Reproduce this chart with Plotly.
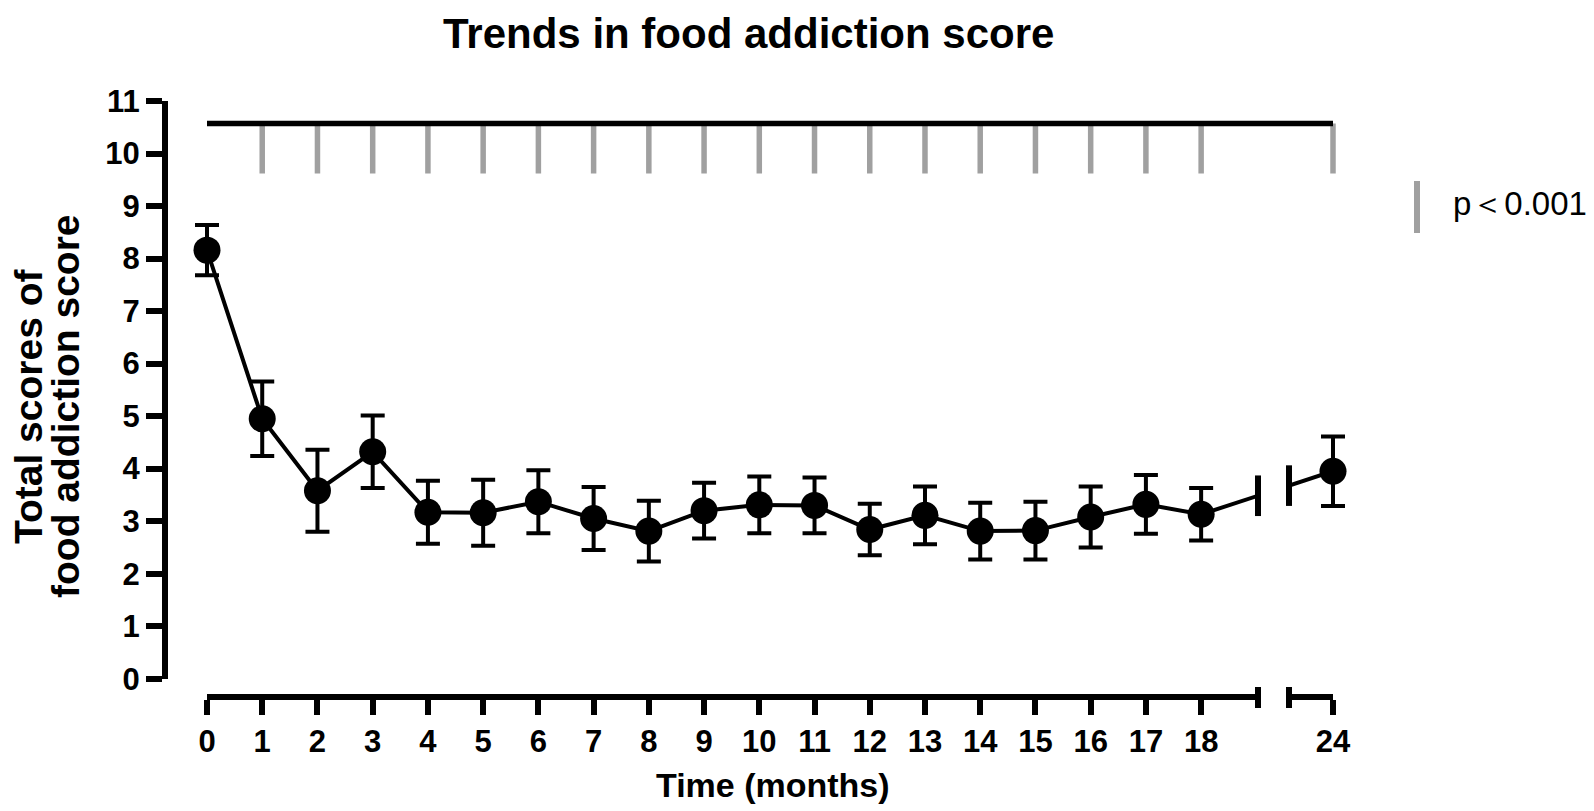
import numpy as np
import plotly.graph_objects as go

# ---------------- data ----------------
months = [0, 1, 2, 3, 4, 5, 6, 7, 8, 9, 10, 11, 12, 13, 14, 15, 16, 17, 18, 24]
mean_scores = [8.16, 4.95, 3.58, 4.32, 3.17, 3.16, 3.37, 3.05, 2.81, 3.20,
               3.31, 3.30, 2.84, 3.11, 2.81, 2.82, 3.08, 3.32, 3.13, 3.95]
sem_scores = [0.48, 0.71, 0.78, 0.69, 0.60, 0.63, 0.60, 0.60, 0.58, 0.53,
              0.54, 0.53, 0.49, 0.55, 0.54, 0.55, 0.58, 0.56, 0.50, 0.66]
tick_labels = [str(m) for m in months]
y_ticks = list(range(0, 12))
sig_months = months[1:]          # every visit vs baseline, p<0.001
SIG_TOP = 10.57
SIG_BOTTOM = 9.62
legend_text = "p\uff1c0.001"

title_text = "Trends in food addiction score"
x_title = "Time (months)"
y_title_lines = ["Total scores of", "food addiction score"]

# ---------------- layout constants (pixels) ----------------
W, H = 1594, 811
FONT = "Liberation Sans, Arial, sans-serif"
PX_PER_UNIT = 55.23
X0_PX = 199          # month 0
BREAK_LO_PX = 1250   # end of first axis segment
BREAK_HI_PX = 1281   # start of second axis segment
END_PX = 1325        # month 24
PAPER_L, PAPER_R = 157, 1345
PAPER_T, PAPER_B = 93, 689
Y_ZERO_PX = 670.7
LAST_REGULAR = 18


def unit(px):
    return (px - X0_PX) / PX_PER_UNIT


def pxx(px):
    return (px - PAPER_L) / (PAPER_R - PAPER_L)


def pxy(py):
    return (PAPER_B - py) / (PAPER_B - PAPER_T)


def to_pos(m):
    return m if m <= LAST_REGULAR else unit(END_PX)


xpos = [to_pos(m) for m in months]
sig_pos = [to_pos(m) for m in sig_months]

fig = go.Figure()

# significance brackets
gx, gy = [], []
for p in sig_pos:
    gx += [p, p, None]
    gy += [SIG_TOP, SIG_BOTTOM, None]
fig.add_trace(go.Scatter(x=gx, y=gy, mode="lines",
                         line=dict(color="#a0a0a0", width=5.5),
                         hoverinfo="skip", showlegend=False))
fig.add_trace(go.Scatter(x=[xpos[0], xpos[-1]], y=[SIG_TOP, SIG_TOP], mode="lines",
                         line=dict(color="black", width=5.5),
                         hoverinfo="skip", showlegend=False))

# main connecting line (0..18)
fig.add_trace(go.Scatter(x=xpos[:19], y=mean_scores[:19], mode="lines",
                         line=dict(color="black", width=4), showlegend=False))
# connector across the break, clipped by each axis segment
for ax in ["x2", "x3"]:
    fig.add_trace(go.Scatter(x=[xpos[18], xpos[19]], y=[mean_scores[18], mean_scores[19]],
                             mode="lines", xaxis=ax, yaxis="y",
                             line=dict(color="black", width=4), showlegend=False))

# break caps on the data line
bx = [unit(BREAK_LO_PX), unit(BREAK_HI_PX)]
by = list(np.interp(bx, [xpos[18], xpos[19]], [mean_scores[18], mean_scores[19]]))
fig.add_trace(go.Scatter(x=bx, y=by, mode="markers", cliponaxis=False,
                         marker=dict(symbol="line-ns", size=29,
                                     line=dict(color="black", width=6)),
                         hoverinfo="skip", showlegend=False))

# points with error bars
fig.add_trace(go.Scatter(x=xpos, y=mean_scores, mode="markers", cliponaxis=False,
                         marker=dict(color="black", size=27),
                         error_y=dict(type="data", array=sem_scores, color="black",
                                      thickness=4, width=12),
                         showlegend=False))

axis_common = dict(showline=True, linecolor="black", linewidth=6, ticks="outside",
                   tickcolor="black", tickwidth=5.5, showgrid=False, zeroline=False,
                   anchor="free", position=0,
                   tickfont=dict(family=FONT, size=31, color="black", weight="bold"))

fig.update_layout(
    width=W, height=H, autosize=False,
    paper_bgcolor="white", plot_bgcolor="rgba(0,0,0,0)",
    margin=dict(l=PAPER_L, r=W - PAPER_R, t=PAPER_T, b=H - PAPER_B, pad=0),
    xaxis=dict(domain=[0, 1], range=[unit(PAPER_L), unit(PAPER_R)], visible=False,
               anchor="y"),
    xaxis2=dict(domain=[pxx(X0_PX), pxx(BREAK_LO_PX)], range=[0, unit(BREAK_LO_PX)],
                tickmode="array", tickvals=xpos[:19], ticktext=tick_labels[:19],
                ticklen=15, **axis_common),
    xaxis3=dict(domain=[pxx(BREAK_HI_PX), pxx(END_PX)],
                range=[unit(BREAK_HI_PX), unit(END_PX) + 0.001],
                tickmode="array", tickvals=xpos[19:], ticktext=tick_labels[19:],
                ticklen=15, **axis_common),
    yaxis=dict(domain=[pxy(Y_ZERO_PX), 1], range=[0, 11],
               tickmode="array", tickvals=y_ticks, ticklen=16,
               **axis_common),
    showlegend=False,
    font=dict(family=FONT, color="black"),
)

# axis break caps
for px in [BREAK_LO_PX, BREAK_HI_PX]:
    fig.add_shape(type="line", xref="x", yref="paper", x0=unit(px), x1=unit(px),
                  y0=pxy(PAPER_B + 11), y1=pxy(PAPER_B - 10),
                  line=dict(color="black", width=6))

# legend key
fig.add_shape(type="line", xref="paper", yref="paper", x0=pxx(1409), x1=pxx(1409),
              y0=pxy(225), y1=pxy(173), line=dict(color="#a0a0a0", width=6))
fig.add_annotation(text=legend_text, xref="paper", yref="paper", x=pxx(1443), y=pxy(196),
                   xanchor="left", yanchor="middle", showarrow=False,
                   font=dict(family=FONT, size=33, color="black"))

# titles
fig.add_annotation(text=title_text, xref="paper", yref="paper", x=pxx(740), y=pxy(25),
                   xanchor="center", yanchor="middle", showarrow=False,
                   font=dict(family=FONT, size=42, color="black", weight="bold"))
fig.add_annotation(text=x_title, xref="paper", yref="paper", x=pxx(765), y=pxy(777),
                   xanchor="center", yanchor="middle", showarrow=False,
                   font=dict(family=FONT, size=34, color="black", weight="bold"))
for line_txt, cx in zip(y_title_lines, [20, 57]):
    fig.add_annotation(text=line_txt, xref="paper", yref="paper", x=pxx(cx), y=pxy(398),
                       xanchor="center", yanchor="middle", showarrow=False, textangle=-90,
                       font=dict(family=FONT, size=39, color="black", weight="bold"))

fig.write_html("out.html")
